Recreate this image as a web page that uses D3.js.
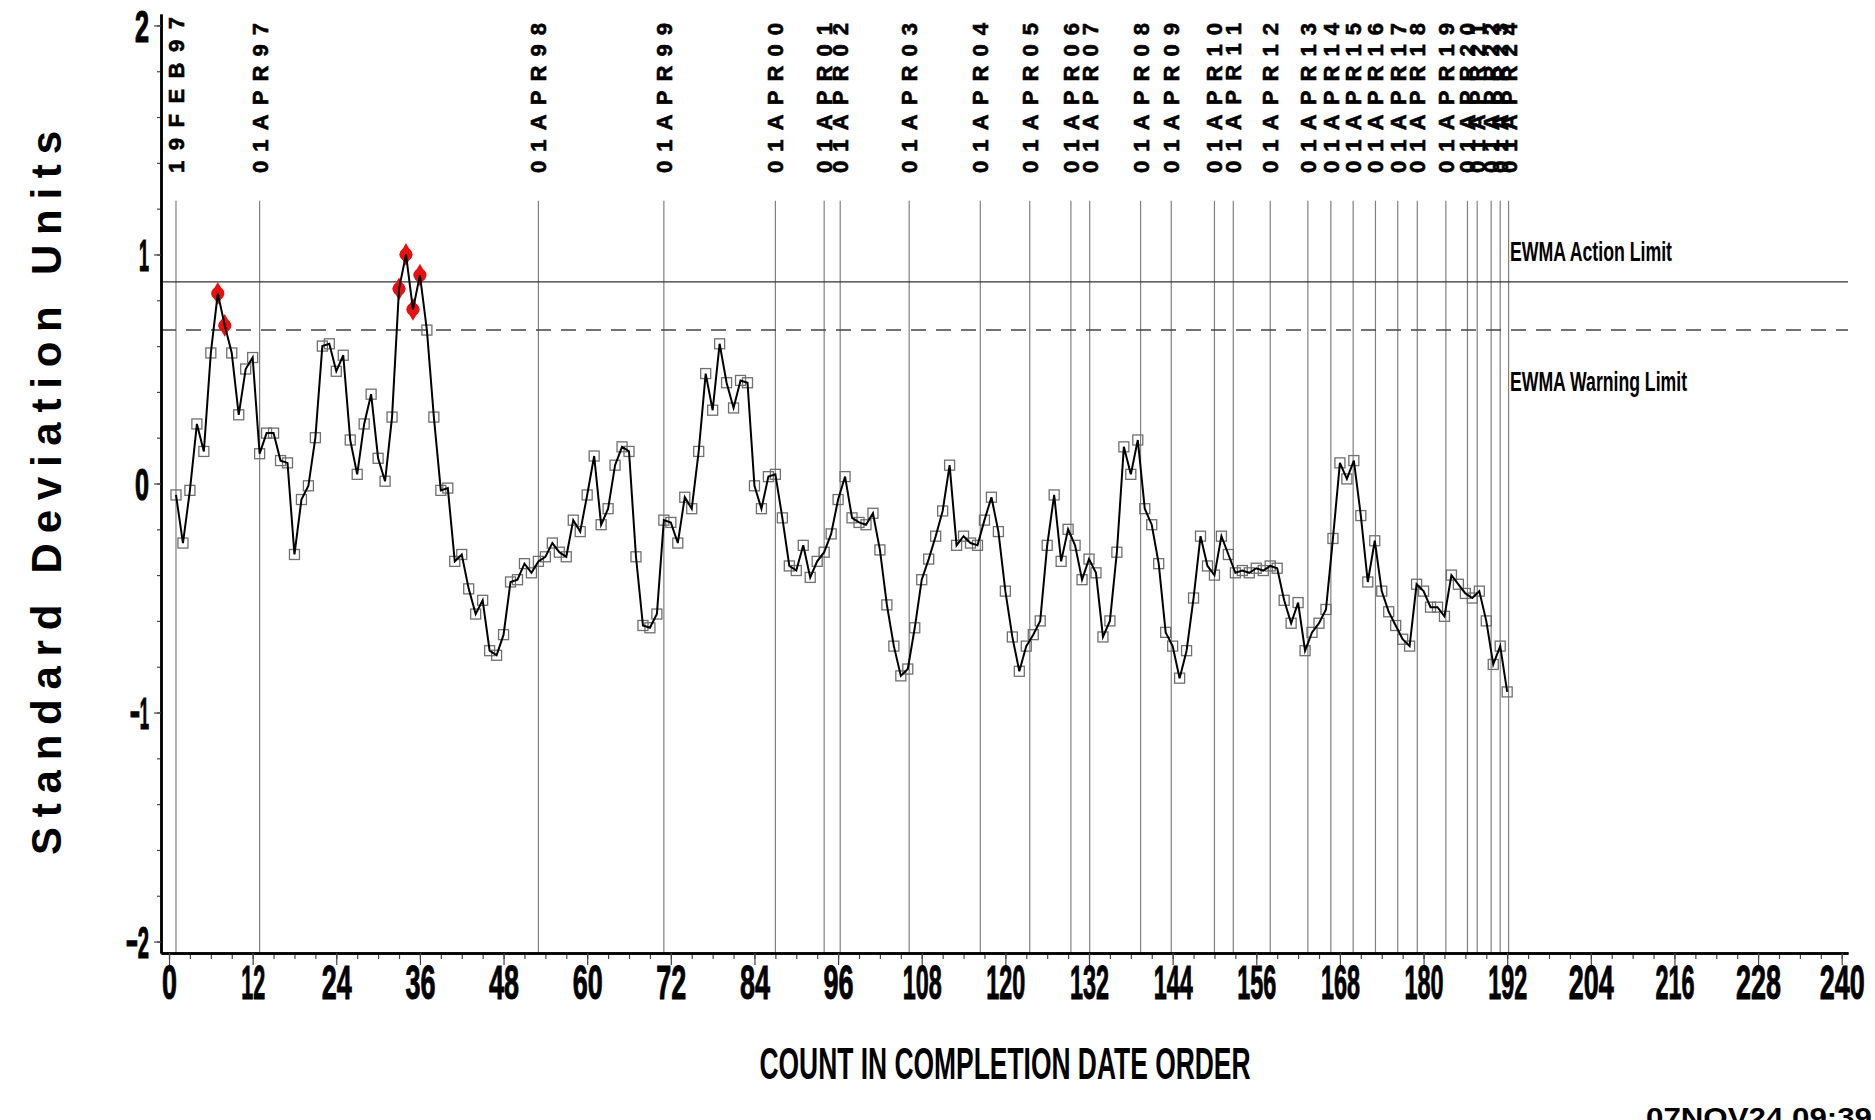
<!DOCTYPE html>
<html><head><meta charset="utf-8">
<script src="https://cdn.jsdelivr.net/npm/d3@7"></script>
<style>body{margin:0;background:#fff;overflow:hidden}svg{display:block}</style>
</head><body>
<svg id="chart" width="1875" height="1120"></svg>
<script>
// ---- data ----
const ewmaValues = [
 -0.05,-0.26,-0.03,0.26,0.14,0.57,0.83,0.69,0.57,0.30,
 0.50,0.55,0.13,0.22,0.22,0.10,0.09,-0.31,-0.07,-0.01,
 0.20,0.60,0.61,0.49,0.56,0.19,0.04,0.26,0.39,0.11,
 0.01,0.29,0.85,1.00,0.76,0.91,0.67,0.29,-0.03,-0.02,
 -0.34,-0.31,-0.46,-0.57,-0.51,-0.73,-0.75,-0.66,-0.43,-0.42,
 -0.35,-0.39,-0.34,-0.32,-0.26,-0.30,-0.32,-0.16,-0.21,-0.05,
 0.12,-0.18,-0.11,0.08,0.16,0.14,-0.32,-0.62,-0.63,-0.57,
 -0.16,-0.17,-0.26,-0.06,-0.11,0.14,0.48,0.32,0.61,0.44,
 0.33,0.45,0.44,-0.01,-0.11,0.03,0.04,-0.15,-0.36,-0.38,
 -0.27,-0.41,-0.34,-0.30,-0.22,-0.07,0.03,-0.15,-0.17,-0.18,
 -0.13,-0.29,-0.53,-0.71,-0.84,-0.81,-0.63,-0.42,-0.33,-0.23,
 -0.12,0.08,-0.27,-0.23,-0.26,-0.27,-0.16,-0.06,-0.21,-0.47,
 -0.67,-0.82,-0.71,-0.66,-0.60,-0.27,-0.05,-0.34,-0.20,-0.27,
 -0.42,-0.33,-0.39,-0.67,-0.60,-0.30,0.16,0.04,0.19,-0.11,
 -0.18,-0.35,-0.65,-0.71,-0.85,-0.73,-0.50,-0.23,-0.36,-0.40,
 -0.23,-0.31,-0.39,-0.38,-0.39,-0.37,-0.38,-0.36,-0.37,-0.51,
 -0.61,-0.52,-0.73,-0.65,-0.61,-0.55,-0.24,0.09,0.02,0.10,
 -0.14,-0.43,-0.25,-0.47,-0.56,-0.62,-0.68,-0.71,-0.44,-0.47,
 -0.54,-0.54,-0.58,-0.40,-0.44,-0.48,-0.50,-0.47,-0.60,-0.79,
 -0.71,-0.91
];
const signalCounts = [7, 8, 33, 34, 35, 36];
const dateLabels = ["19FEB97","01APR97","01APR98","01APR99","01APR00","01APR01","01APR02",
 "01APR03","01APR04","01APR05","01APR06","01APR07","01APR08","01APR09","01APR10","01APR11",
 "01APR12","01APR13","01APR14","01APR15","01APR16","01APR17","01APR18","01APR19","01APR20",
 "01APR21","01APR22","01APR23","01APR24"];
const dateCounts = [1,13,53,71,87,94,96.3,106.2,116.4,123.5,129.4,132.1,139.4,143.8,150.0,152.7,
 158.0,163.4,166.7,169.9,173.1,176.3,179.1,183.2,186.3,187.7,189.7,191.0,192.2];
const actionLimit = 0.88;
const warningLimit = 0.67;
const xTickLabels = [0,12,24,36,48,60,72,84,96,108,120,132,144,156,168,180,192,204,216,228,240];
const xMinorTicks = d3.range(0, 241, 3);
const yTickLabels = [-2,-1,0,1,2];
const yMinorTicks = d3.range(-20, 21, 2).map(v => v/10);

// ---- layout ----
const svg = d3.select("#chart");
const FONT = "'Liberation Sans', Arial, sans-serif";
const x = d3.scaleLinear().domain([-1.15, 240.9]).range([161, 1848]);
const y = d3.scaleLinear().domain([-2.05, 2.05]).range([953, 14]);

const charW = (s, wd, wOne, wMinus) => Array.from(s).reduce((a,c)=> a + (c==="1"?wOne:(c==="−"||c==="-"?wMinus:wd)),0);

// vertical date lines
svg.append("g").selectAll("line").data(dateCounts).join("line")
  .attr("x1", d=>x(d)).attr("x2", d=>x(d))
  .attr("y1", y(1.235)).attr("y2", y(-2.05))
  .attr("stroke", "#808080").attr("stroke-width", 1.2);

// date labels (rotated)
svg.append("g").selectAll("text").data(dateLabels).join("text")
  .attr("transform", (d,i)=>`translate(${x(dateCounts[i])+8},173) rotate(-90)`)
  .attr("font-family", FONT).attr("font-weight", "bold").attr("font-size", 22)
  .attr("stroke", "#000").attr("stroke-width", 0.6)
  .attr("textLength", (d,i)=> i===0 ? 156 : 150).attr("lengthAdjust", "spacing")
  .attr("fill", "#000").text(d=>d);

// limit lines
svg.append("line").attr("x1", 161).attr("x2", 1848)
  .attr("y1", y(actionLimit)).attr("y2", y(actionLimit))
  .attr("stroke", "#333").attr("stroke-width", 1.2);
svg.append("line").attr("x1", 161).attr("x2", 1848)
  .attr("y1", y(warningLimit)).attr("y2", y(warningLimit))
  .attr("stroke", "#444").attr("stroke-width", 1.6).attr("stroke-dasharray", "15,10");

svg.append("text").attr("x", 1510).attr("y", 261)
  .attr("font-family", FONT).attr("font-weight", "bold").attr("font-size", 28)
  .attr("textLength", 162).attr("lengthAdjust", "spacingAndGlyphs").text("EWMA Action Limit");
svg.append("text").attr("x", 1510).attr("y", 391)
  .attr("font-family", FONT).attr("font-weight", "bold").attr("font-size", 28)
  .attr("textLength", 177).attr("lengthAdjust", "spacingAndGlyphs").text("EWMA Warning Limit");

// axes
const gx = svg.append("g").attr("transform", `translate(0,${y(-2.05)})`);
gx.call(d3.axisBottom(x).tickValues(xMinorTicks).tickSize(6).tickSizeOuter(0).tickFormat(""));
gx.append("g").call(d3.axisBottom(x).tickValues(xTickLabels).tickSize(12).tickSizeOuter(0));
gx.selectAll(".domain").attr("stroke", "#000").attr("stroke-width", 2.5);
gx.selectAll(".tick line").attr("stroke", "#444").attr("stroke-width", 1.2);
gx.selectAll(".tick text")
  .attr("font-family", FONT).attr("font-weight", "bold").attr("font-size", 48)
  .attr("fill", "#000").attr("stroke", "#000").attr("stroke-width", 1)
  .attr("y", 12).attr("dy", "0.71em")
  .attr("textLength", d => charW(String(d), 15, 9, 10))
  .attr("lengthAdjust", "spacingAndGlyphs");

const gy = svg.append("g").attr("transform", `translate(161,0)`);
gy.call(d3.axisLeft(y).tickValues(yMinorTicks).tickSize(4).tickSizeOuter(0).tickFormat(""));
gy.append("g").call(d3.axisLeft(y).tickValues(yTickLabels).tickSize(7).tickSizeOuter(0)
  .tickFormat(d => d < 0 ? "−" + Math.abs(d) : String(d)));
gy.selectAll(".domain").attr("stroke", "#000").attr("stroke-width", 2.5);
gy.selectAll(".tick line").attr("stroke", "#444").attr("stroke-width", 1.2);
gy.selectAll(".tick text")
  .attr("font-family", FONT).attr("font-weight", "bold").attr("font-size", 44)
  .attr("fill", "#000").attr("stroke", "#000").attr("stroke-width", 1.2)
  .attr("x", -12).attr("dy", "0.36em")
  .attr("textLength", function(){ return charW(this.textContent, 14, 10, 9); })
  .attr("lengthAdjust", "spacingAndGlyphs");

// markers
const pts = ewmaValues.map((v,i)=>({c:i+1, v}));
svg.append("g").selectAll("rect").data(pts.filter(p=>!signalCounts.includes(p.c))).join("rect")
  .attr("x", p=>x(p.c)-5).attr("y", p=>y(p.v)-5).attr("width", 10).attr("height", 10)
  .attr("fill", "none").attr("stroke", "#707070").attr("stroke-width", 1.3);
const red = svg.append("g");
red.selectAll("circle").data(pts.filter(p=>signalCounts.includes(p.c))).join("circle")
  .attr("cx", p=>x(p.c)).attr("cy", p=>y(p.v)).attr("r", 6.5).attr("fill", "#e00a0a");
red.selectAll("path").data(pts.filter(p=>signalCounts.includes(p.c))).join("path")
  .attr("transform", p=>`translate(${x(p.c)},${y(p.v)})`)
  .attr("d", d3.symbol(d3.symbolDiamond, 150)).attr("fill", "#e81010");

// line
svg.append("path").datum(pts)
  .attr("d", d3.line().x(p=>x(p.c)).y(p=>y(p.v)))
  .attr("fill", "none").attr("stroke", "#000").attr("stroke-width", 2);

// titles
svg.append("text").attr("transform", "translate(61,493) rotate(-90)")
  .attr("text-anchor", "middle").attr("font-family", FONT).attr("font-weight", "bold")
  .attr("font-size", 42).attr("textLength", 724).attr("lengthAdjust", "spacing")
  .text("Standard Deviation Units");
svg.append("text").attr("x", 1005).attr("y", 1079).attr("text-anchor", "middle")
  .attr("font-family", FONT).attr("font-weight", "bold").attr("font-size", 45)
  .attr("textLength", 491).attr("lengthAdjust", "spacingAndGlyphs")
  .text("COUNT IN COMPLETION DATE ORDER");
svg.append("text").attr("x", 1646).attr("y", 1127)
  .attr("font-family", FONT).attr("font-weight", "bold").attr("font-size", 28)
  .attr("textLength", 226).attr("lengthAdjust", "spacingAndGlyphs")
  .text("07NOV24 09:39");
</script>
</body></html>
